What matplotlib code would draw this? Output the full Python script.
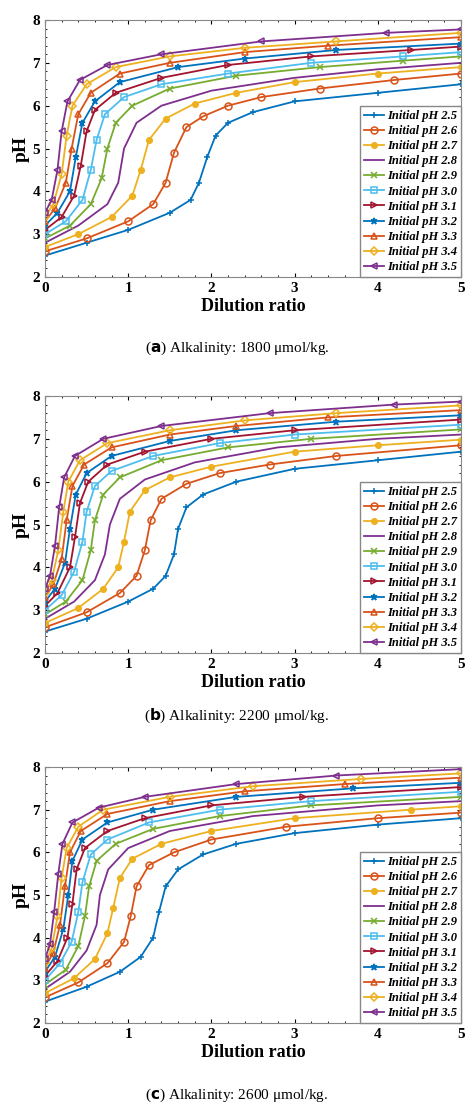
import matplotlib
matplotlib.use('Agg')
import matplotlib.pyplot as plt

# initial pH labels and styles (MATLAB default colour order)
init_ph = ['2.5', '2.6', '2.7', '2.8', '2.9', '3.0', '3.1', '3.2', '3.3', '3.4', '3.5']
colors = ['#0072BD', '#D95319', '#EDB120', '#7E2F8E', '#77AC30', '#4DBEEE',
          '#A2142F', '#0072BD', '#D95319', '#EDB120', '#7E2F8E']
markers = ['+', 'o', 'o', 'None', 'x', 's', '>', '*', '^', 'D', '<']
filled = [True, False, True, True, True, False, False, True, False, False, False]

# panel (a): alkalinity 1800
a_x = [
    [0, 0.5, 1, 1.5, 1.75, 1.85, 1.95, 2.05, 2.2, 2.5, 3, 4, 5],
    [0, 0.5, 1, 1.3, 1.45, 1.55, 1.7, 1.9, 2.2, 2.6, 3.3, 4.2, 5],
    [0, 0.4, 0.8, 1.05, 1.15, 1.25, 1.45, 1.8, 2.3, 3, 4, 5],
    [0, 0.4, 0.75, 0.88, 0.95, 1.1, 1.4, 2, 3, 4, 5],
    [0, 0.3, 0.55, 0.68, 0.75, 0.85, 1.05, 1.5, 2.3, 3.3, 4.3, 5],
    [0, 0.25, 0.45, 0.55, 0.62, 0.72, 0.95, 1.4, 2.2, 3.2, 4.3, 5],
    [0, 0.2, 0.35, 0.43, 0.5, 0.6, 0.85, 1.4, 2.2, 3.2, 4.4, 5],
    [0, 0.15, 0.3, 0.37, 0.45, 0.6, 0.9, 1.6, 2.4, 3.5, 5],
    [0, 0.12, 0.25, 0.32, 0.4, 0.55, 0.9, 1.5, 2.4, 3.4, 5],
    [0, 0.1, 0.2, 0.26, 0.33, 0.5, 0.85, 1.5, 2.4, 3.5, 5],
    [0, 0.08, 0.15, 0.2, 0.27, 0.42, 0.75, 1.4, 2.6, 4.1, 5],
]
a_y = [
    [2.5, 2.8, 3.1, 3.5, 3.8, 4.2, 4.8, 5.3, 5.6, 5.85, 6.1, 6.3, 6.5],
    [2.6, 2.9, 3.3, 3.7, 4.2, 4.9, 5.5, 5.75, 6.0, 6.2, 6.4, 6.6, 6.75],
    [2.7, 3.0, 3.4, 3.9, 4.5, 5.2, 5.7, 6.05, 6.3, 6.55, 6.75, 6.9],
    [2.8, 3.2, 3.7, 4.2, 5.0, 5.6, 6.0, 6.35, 6.65, 6.85, 7.0],
    [2.9, 3.2, 3.7, 4.3, 5.0, 5.6, 6.0, 6.4, 6.7, 6.9, 7.05, 7.15],
    [3.0, 3.3, 3.8, 4.5, 5.2, 5.8, 6.2, 6.5, 6.75, 7.0, 7.15, 7.25],
    [3.1, 3.4, 3.9, 4.6, 5.4, 5.9, 6.3, 6.65, 6.95, 7.15, 7.3, 7.38],
    [3.2, 3.5, 4.0, 4.8, 5.6, 6.1, 6.55, 6.9, 7.1, 7.3, 7.45],
    [3.3, 3.6, 4.2, 5.0, 5.8, 6.3, 6.75, 7.0, 7.25, 7.4, 7.6],
    [3.4, 3.7, 4.4, 5.3, 6.0, 6.5, 6.9, 7.15, 7.35, 7.5, 7.7],
    [3.5, 3.8, 4.5, 5.4, 6.1, 6.6, 6.95, 7.2, 7.5, 7.7, 7.78],
]

# panel (b): alkalinity 2200
b_x = [
    [0, 0.5, 1, 1.3, 1.45, 1.55, 1.6, 1.7, 1.9, 2.3, 3, 4, 5],
    [0, 0.5, 0.9, 1.1, 1.2, 1.27, 1.4, 1.7, 2.1, 2.7, 3.5, 5],
    [0, 0.4, 0.7, 0.88, 0.95, 1.02, 1.2, 1.5, 2, 3, 4, 5],
    [0, 0.35, 0.6, 0.72, 0.78, 0.9, 1.2, 1.8, 2.8, 4, 5],
    [0, 0.25, 0.45, 0.55, 0.6, 0.7, 0.9, 1.4, 2.2, 3.2, 5],
    [0, 0.2, 0.35, 0.45, 0.5, 0.6, 0.8, 1.3, 2.1, 3.0, 5],
    [0, 0.15, 0.3, 0.36, 0.42, 0.52, 0.75, 1.2, 2, 3, 5],
    [0, 0.12, 0.24, 0.3, 0.37, 0.5, 0.8, 1.5, 2.3, 3.5, 5],
    [0, 0.1, 0.2, 0.26, 0.33, 0.47, 0.8, 1.5, 2.3, 3.4, 5],
    [0, 0.08, 0.16, 0.22, 0.28, 0.42, 0.75, 1.5, 2.4, 3.5, 5],
    [0, 0.06, 0.12, 0.17, 0.23, 0.36, 0.7, 1.4, 2.7, 4.2, 5],
]
b_y = [
    [2.5, 2.8, 3.2, 3.5, 3.8, 4.3, 4.9, 5.4, 5.7, 6.0, 6.3, 6.5, 6.7],
    [2.6, 2.95, 3.4, 3.8, 4.4, 5.1, 5.6, 5.95, 6.2, 6.4, 6.6, 6.85],
    [2.7, 3.05, 3.5, 4.0, 4.6, 5.3, 5.8, 6.1, 6.35, 6.7, 6.85, 6.98],
    [2.8, 3.2, 3.7, 4.3, 5.0, 5.6, 6.05, 6.45, 6.8, 7.0, 7.1],
    [2.9, 3.2, 3.7, 4.4, 5.1, 5.7, 6.1, 6.5, 6.8, 7.0, 7.22],
    [3.0, 3.35, 3.9, 4.6, 5.3, 5.9, 6.25, 6.6, 6.9, 7.1, 7.33],
    [3.1, 3.4, 4.0, 4.7, 5.5, 6.0, 6.4, 6.7, 7.0, 7.2, 7.45],
    [3.2, 3.5, 4.1, 4.9, 5.7, 6.2, 6.6, 6.95, 7.2, 7.4, 7.55],
    [3.3, 3.6, 4.2, 5.1, 5.9, 6.4, 6.8, 7.1, 7.3, 7.5, 7.67],
    [3.4, 3.7, 4.4, 5.3, 6.0, 6.5, 6.9, 7.2, 7.43, 7.6, 7.78],
    [3.5, 3.8, 4.5, 5.4, 6.1, 6.6, 7.0, 7.3, 7.6, 7.8, 7.87],
]

# panel (c): alkalinity 2600
c_x = [
    [0, 0.5, 0.9, 1.15, 1.3, 1.37, 1.45, 1.6, 1.9, 2.3, 3, 4, 5],
    [0, 0.4, 0.75, 0.95, 1.03, 1.1, 1.25, 1.55, 2, 2.9, 4, 5],
    [0, 0.35, 0.6, 0.75, 0.82, 0.9, 1.05, 1.4, 2, 3, 4.4, 5],
    [0, 0.3, 0.5, 0.62, 0.66, 0.76, 1.0, 1.5, 2.5, 4, 5],
    [0, 0.25, 0.4, 0.48, 0.53, 0.62, 0.85, 1.3, 2.1, 3.2, 5],
    [0, 0.18, 0.32, 0.4, 0.45, 0.55, 0.75, 1.25, 2.1, 3.2, 5],
    [0, 0.15, 0.27, 0.33, 0.38, 0.48, 0.75, 1.2, 2, 3.1, 5],
    [0, 0.12, 0.22, 0.28, 0.33, 0.45, 0.75, 1.3, 2.3, 3.7, 5],
    [0, 0.1, 0.18, 0.24, 0.3, 0.43, 0.75, 1.5, 2.4, 3.6, 5],
    [0, 0.08, 0.15, 0.2, 0.26, 0.4, 0.7, 1.5, 2.5, 3.8, 5],
    [0, 0.06, 0.11, 0.16, 0.21, 0.33, 0.65, 1.2, 2.3, 3.5, 5],
]
c_y = [
    [2.5, 2.85, 3.2, 3.55, 4.0, 4.6, 5.2, 5.6, 5.95, 6.2, 6.45, 6.65, 6.8],
    [2.6, 2.95, 3.4, 3.9, 4.5, 5.2, 5.7, 6.0, 6.3, 6.6, 6.8, 6.93],
    [2.7, 3.05, 3.5, 4.1, 4.7, 5.4, 5.85, 6.2, 6.5, 6.8, 7.0, 7.08],
    [2.8, 3.2, 3.7, 4.3, 5.0, 5.6, 6.1, 6.5, 6.85, 7.1, 7.2],
    [2.9, 3.25, 3.8, 4.5, 5.2, 5.8, 6.2, 6.55, 6.85, 7.1, 7.3],
    [3.0, 3.4, 3.9, 4.6, 5.3, 5.95, 6.3, 6.7, 7.0, 7.2, 7.42],
    [3.1, 3.45, 4.0, 4.8, 5.6, 6.1, 6.5, 6.8, 7.1, 7.3, 7.53],
    [3.2, 3.55, 4.2, 5.0, 5.8, 6.3, 6.7, 7.0, 7.3, 7.5, 7.63],
    [3.3, 3.65, 4.3, 5.2, 6.0, 6.5, 6.9, 7.2, 7.43, 7.6, 7.75],
    [3.4, 3.75, 4.5, 5.4, 6.1, 6.6, 7.0, 7.3, 7.55, 7.72, 7.85],
    [3.5, 3.85, 4.6, 5.5, 6.2, 6.7, 7.05, 7.3, 7.6, 7.8, 7.95],
]

panels = [(a_x, a_y, 'a', '1800'), (b_x, b_y, 'b', '2200'), (c_x, c_y, 'c', '2600')]
tops = [20, 396, 767]       # axes top edge, px
bottoms = [277, 653, 1023]  # axes bottom edge, px
caps = [348, 716, 1095]     # caption centre, px

W, H = 474, 1112
serif = ['Liberation Serif', 'DejaVu Serif']
fig = plt.figure(figsize=(W / 100, H / 100), dpi=100)

for k, (xs, ys, tag, alk) in enumerate(panels):
    ax = fig.add_axes([45 / W, 1 - bottoms[k] / H, 416 / W, (bottoms[k] - tops[k]) / H])
    for i in range(len(init_ph)):
        ms = 4 if markers[i] == 'o' and filled[i] else 5
        if markers[i] == 'D':
            ms = 4
        ax.plot(xs[i], ys[i], color=colors[i], marker=markers[i], lw=1.3, ms=ms,
                mfc=colors[i] if filled[i] else 'none', mew=1.1,
                label='Initial pH ' + init_ph[i])
    ax.set_xlim(0, 5)
    ax.set_ylim(2, 8)
    ax.set_xticks(range(6))
    ax.set_yticks(range(2, 9))
    ax.minorticks_on()
    ax.tick_params(which='both', direction='in', top=True, right=True, labelsize=11)
    ax.tick_params(which='major', length=3)
    ax.tick_params(which='minor', length=1.5)
    for lab in ax.get_xticklabels() + ax.get_yticklabels():
        lab.set_fontfamily(serif)
        lab.set_fontweight('bold')
    for s in ax.spines.values():
        s.set_color('#888888')
    ax.set_xlabel('Dilution ratio', fontsize=13, fontweight='bold', family=serif, labelpad=2)
    ax.set_ylabel('pH', fontsize=14, fontweight='bold', family=serif, labelpad=2)
    leg = ax.legend(loc='lower right', prop={'family': serif, 'style': 'italic',
                    'weight': 'bold', 'size': 9}, borderaxespad=0, handlelength=1.6,
                    handletextpad=0.3, labelspacing=0.25, borderpad=0.3,
                    fancybox=False, framealpha=1)
    leg.get_frame().set_edgecolor('#888888')
    fig.text(0.5, 1 - caps[k] / H, '(' + r'$\mathbf{' + tag + '}$' + ') Alkalinity: ' + alk + ' μmol/kg.',
             ha='center', va='center', fontsize=11, family=serif)

fig.savefig('out.png', dpi=100)
